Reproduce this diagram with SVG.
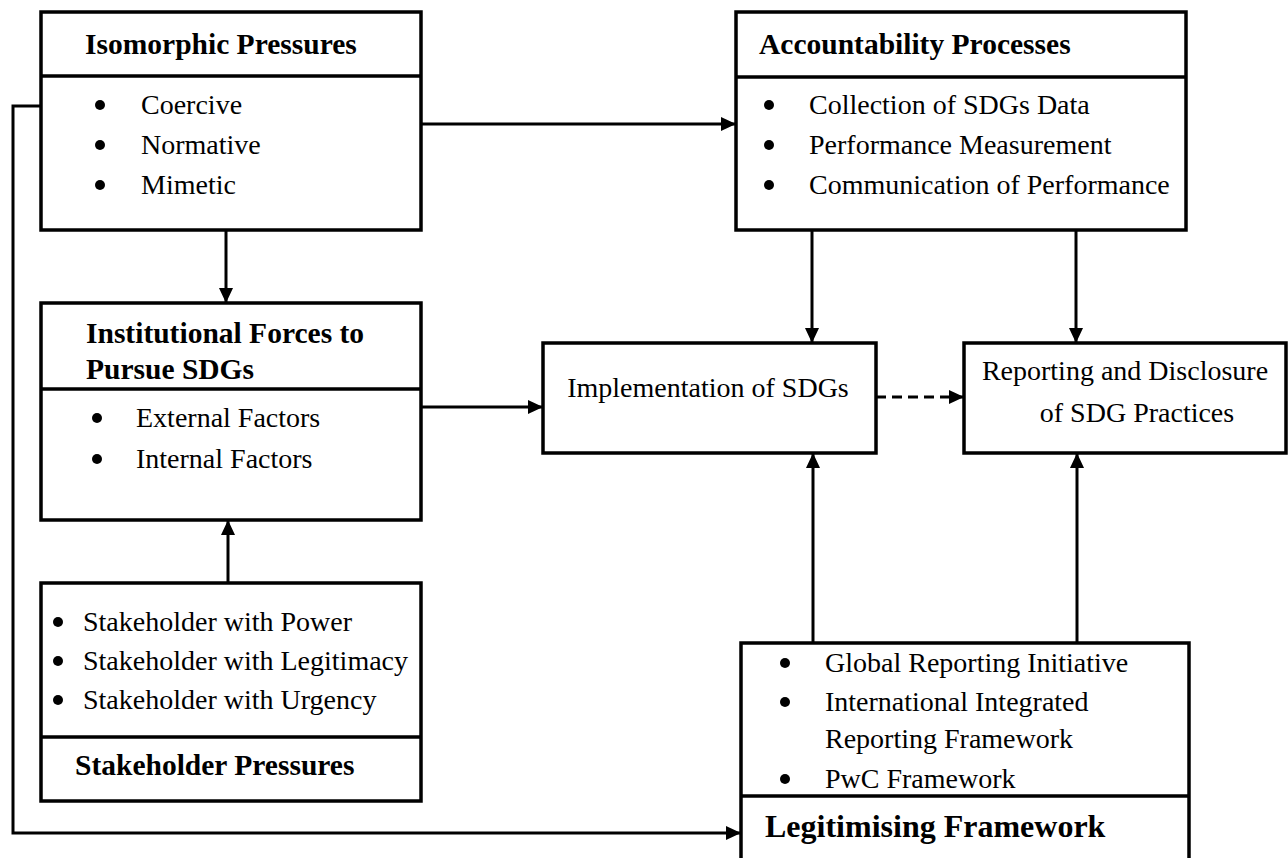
<svg xmlns="http://www.w3.org/2000/svg" width="1288" height="858" viewBox="0 0 1288 858">
  <style>
    .box { fill: #ffffff; stroke: #000000; stroke-width: 3.5; }
    .div { stroke: #000000; stroke-width: 3.5; }
    .t { font-family: "Liberation Serif", "Times New Roman", serif; font-size: 28px; fill: #000000; }
    .h { font-family: "Liberation Serif", "Times New Roman", serif; font-size: 29.5px; font-weight: bold; fill: #000000; }
    .c { text-anchor: middle; }
    .dot { fill: #000000; }
    .ln { fill: none; stroke: #000000; stroke-width: 3; }
    .dash { stroke-dasharray: 10 6; }
  </style>
  <defs>
    <marker id="arr" markerUnits="userSpaceOnUse" markerWidth="16" markerHeight="14" refX="15" refY="7" orient="auto">
      <path d="M0,0 L15,7 L0,14 Z" fill="#000000"/>
    </marker>
  </defs>
  <rect width="1288" height="858" fill="#ffffff"/>

  <g id="connectors">
    <line class="ln" x1="421" y1="124" x2="736" y2="124" marker-end="url(#arr)"/>
    <line class="ln" x1="226" y1="230" x2="226" y2="303" marker-end="url(#arr)"/>
    <line class="ln" x1="228" y1="583" x2="228" y2="520" marker-end="url(#arr)"/>
    <line class="ln" x1="421" y1="407" x2="543" y2="407" marker-end="url(#arr)"/>
    <line class="ln" x1="812" y1="230" x2="812" y2="343" marker-end="url(#arr)"/>
    <line class="ln" x1="1076" y1="230" x2="1076" y2="343" marker-end="url(#arr)"/>
    <line class="ln dash" x1="876" y1="397" x2="964" y2="397" marker-end="url(#arr)"/>
    <line class="ln" x1="813" y1="643" x2="813" y2="453" marker-end="url(#arr)"/>
    <line class="ln" x1="1077" y1="643" x2="1077" y2="453" marker-end="url(#arr)"/>
    <polyline class="ln" points="41,106 13,106 13,833 741,833" marker-end="url(#arr)"/>
  </g>

  <g id="isomorphic">
    <rect class="box" x="41" y="12" width="380" height="218"/>
    <line class="div" x1="41" y1="76" x2="421" y2="76"/>
    <text class="h" x="85" y="54">Isomorphic Pressures</text>
    <circle class="dot" cx="100" cy="105" r="5"/>
    <text class="t" x="141" y="114">Coercive</text>
    <circle class="dot" cx="100" cy="145" r="5"/>
    <text class="t" x="141" y="154">Normative</text>
    <circle class="dot" cx="100" cy="185" r="5"/>
    <text class="t" x="141" y="194">Mimetic</text>
  </g>

  <g id="accountability">
    <rect class="box" x="736" y="12" width="450" height="218"/>
    <line class="div" x1="736" y1="77" x2="1186" y2="77"/>
    <text class="h" x="759" y="54">Accountability Processes</text>
    <circle class="dot" cx="769" cy="105" r="5"/>
    <text class="t" x="809" y="114">Collection of SDGs Data</text>
    <circle class="dot" cx="769" cy="145" r="5"/>
    <text class="t" x="809" y="154">Performance Measurement</text>
    <circle class="dot" cx="769" cy="185" r="5"/>
    <text class="t" x="809" y="194">Communication of Performance</text>
  </g>

  <g id="institutional">
    <rect class="box" x="41" y="303" width="380" height="217"/>
    <line class="div" x1="41" y1="389" x2="421" y2="389"/>
    <text class="h" x="86" y="343">Institutional Forces to</text>
    <text class="h" x="86" y="379">Pursue SDGs</text>
    <circle class="dot" cx="97" cy="418" r="5"/>
    <text class="t" x="136" y="427">External Factors</text>
    <circle class="dot" cx="97" cy="459" r="5"/>
    <text class="t" x="136" y="468">Internal Factors</text>
  </g>

  <g id="implementation">
    <rect class="box" x="543" y="343" width="333" height="110"/>
    <text class="t c" x="708" y="397">Implementation of SDGs</text>
  </g>

  <g id="reporting">
    <rect class="box" x="964" y="343" width="322" height="110"/>
    <text class="t c" x="1125" y="380">Reporting and Disclosure</text>
    <text class="t c" x="1137" y="422">of SDG Practices</text>
  </g>

  <g id="stakeholder">
    <rect class="box" x="41" y="583" width="380" height="218"/>
    <line class="div" x1="41" y1="737" x2="421" y2="737"/>
    <circle class="dot" cx="58" cy="622" r="5"/>
    <text class="t" x="83" y="631">Stakeholder with Power</text>
    <circle class="dot" cx="58" cy="661" r="5"/>
    <text class="t" x="83" y="670">Stakeholder with Legitimacy</text>
    <circle class="dot" cx="58" cy="700" r="5"/>
    <text class="t" x="83" y="709">Stakeholder with Urgency</text>
    <text class="h" x="75" y="775">Stakeholder Pressures</text>
  </g>

  <g id="legitimising">
    <rect class="box" x="741" y="643" width="448" height="230"/>
    <line class="div" x1="741" y1="796" x2="1189" y2="796"/>
    <circle class="dot" cx="785" cy="663" r="5"/>
    <text class="t" x="825" y="672">Global Reporting Initiative</text>
    <circle class="dot" cx="785" cy="702" r="5"/>
    <text class="t" x="825" y="711">International Integrated</text>
    <text class="t" x="825" y="748">Reporting Framework</text>
    <circle class="dot" cx="785" cy="779" r="5"/>
    <text class="t" x="825" y="788">PwC Framework</text>
    <text class="h" x="765" y="837" style="font-size:32px">Legitimising Framework</text>
  </g>
</svg>
